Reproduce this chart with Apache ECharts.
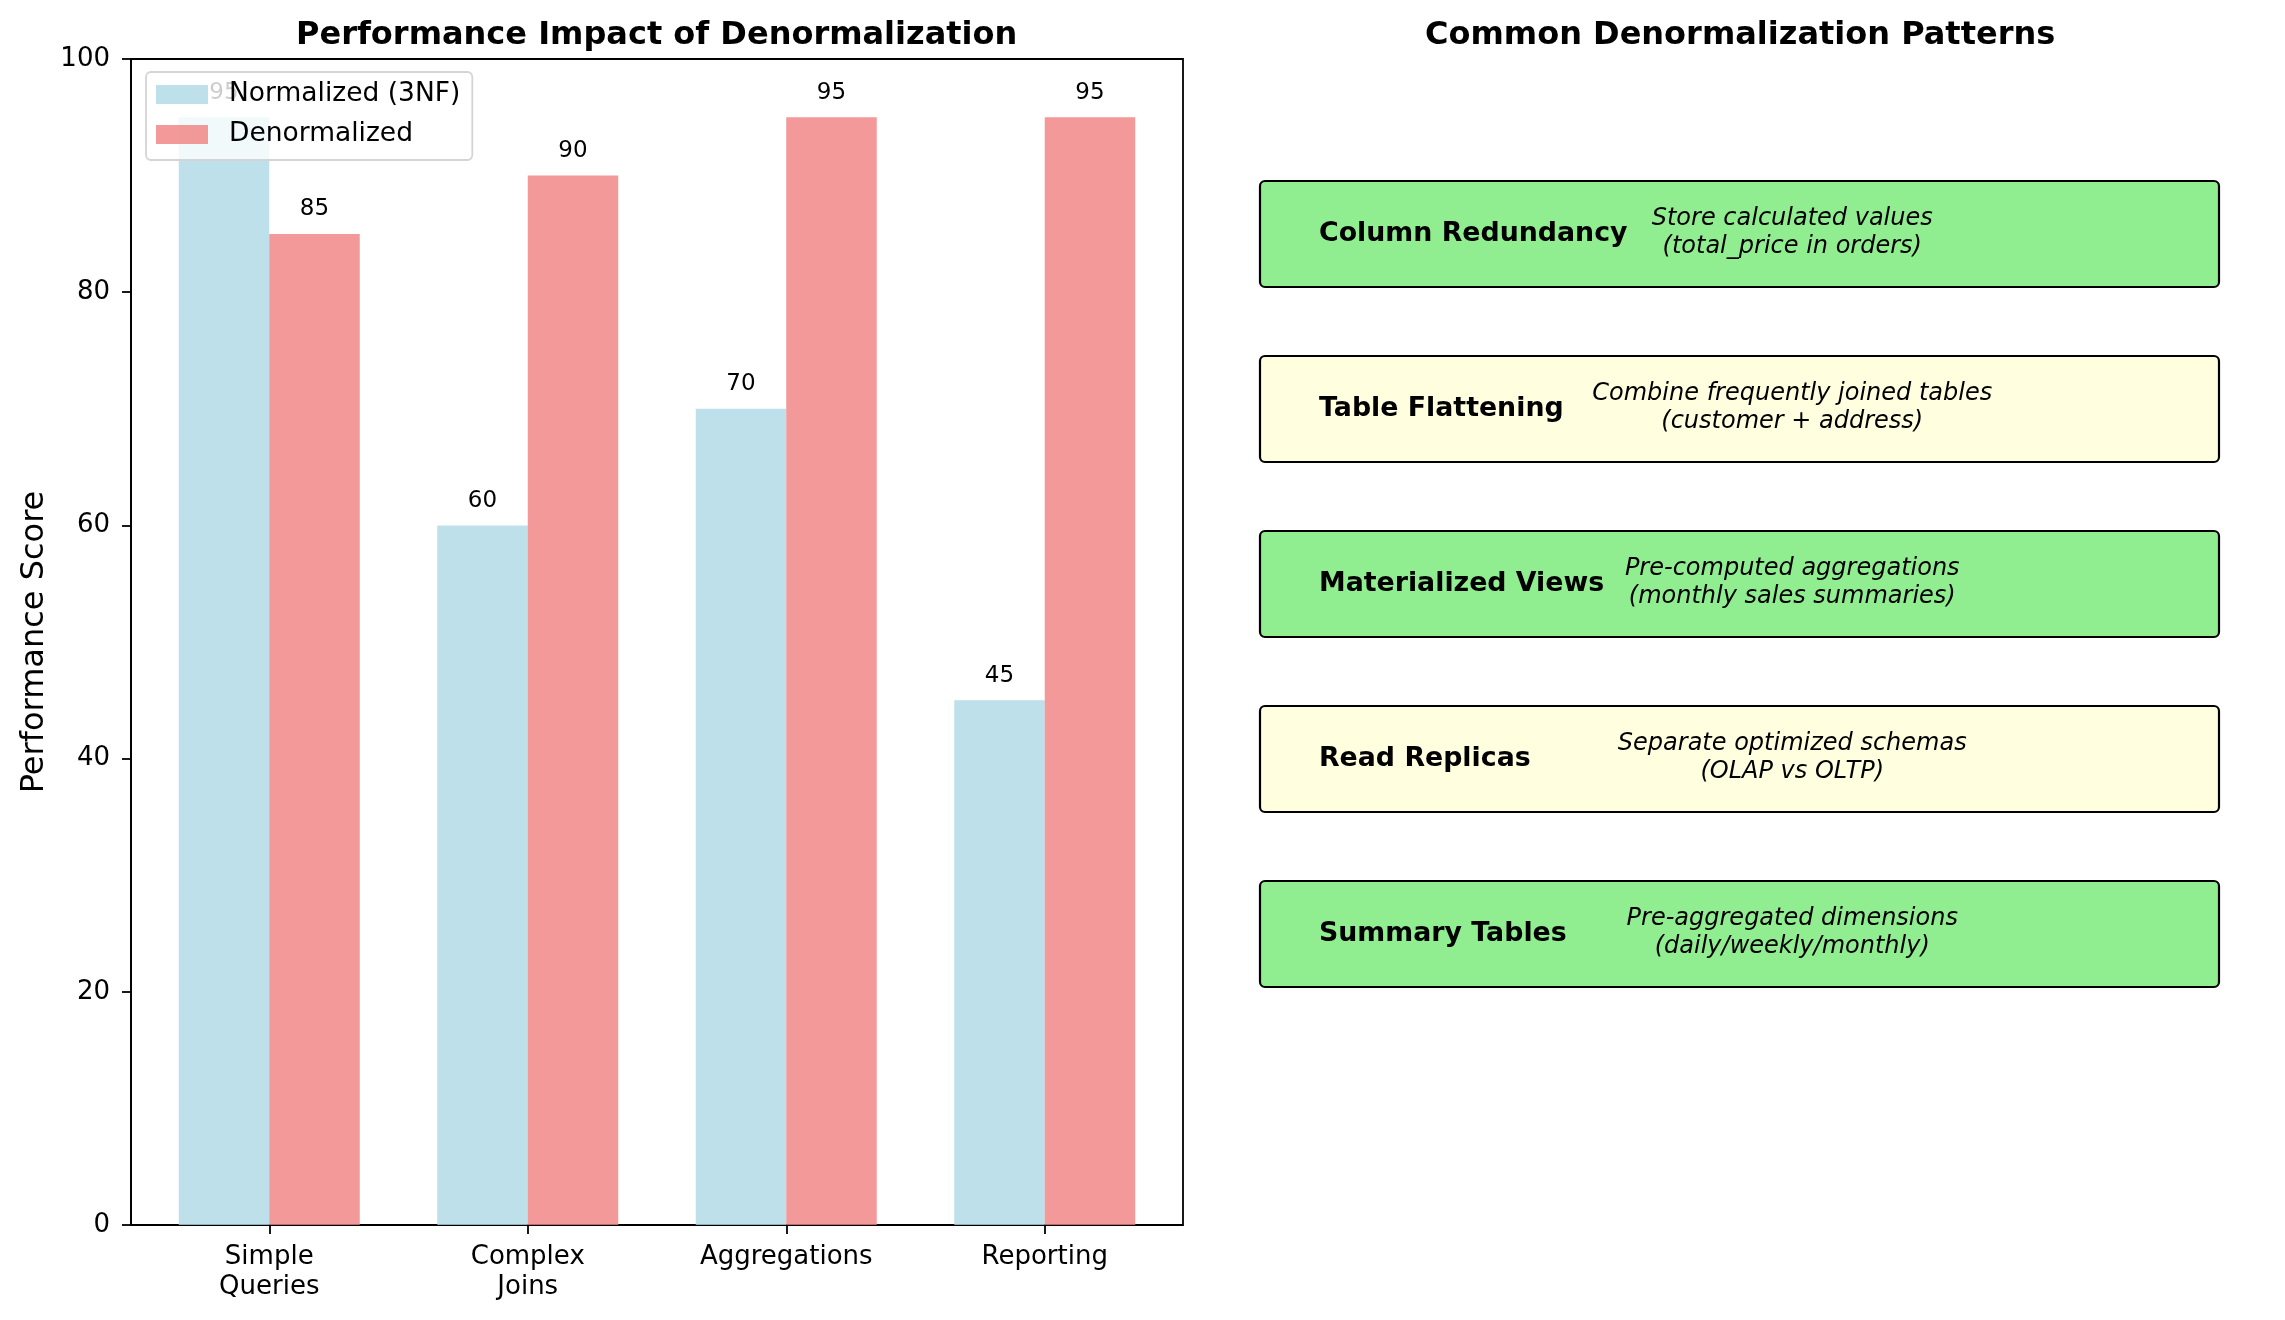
<!DOCTYPE html>
<html>
<head>
<meta charset="utf-8">
<script src="https://cdn.jsdelivr.net/npm/echarts@6/dist/echarts.min.js"></script>
<style>
html,body{margin:0;padding:0;background:#fff;}
#chart{width:2285px;height:1320px;}
</style>
</head>
<body>
<div id="chart"></div>
<script>
// ---- data ----
const categories = ['Simple\nQueries', 'Complex\nJoins', 'Aggregations', 'Reporting'];
const normalizedScores = [95, 60, 70, 45];
const denormalizedScores = [85, 90, 95, 95];
const yTicks = [0, 20, 40, 60, 80, 100];
const seriesNames = ['Normalized (3NF)', 'Denormalized'];
const patternNames = ['Column Redundancy', 'Table Flattening', 'Materialized Views', 'Read Replicas', 'Summary Tables'];
const patternDescs = [
  'Store calculated values\n(total_price in orders)',
  'Combine frequently joined tables\n(customer + address)',
  'Pre-computed aggregations\n(monthly sales summaries)',
  'Separate optimized schemas\n(OLAP vs OLTP)',
  'Pre-aggregated dimensions\n(daily/weekly/monthly)'
];

const FONT = 'DejaVu Sans';
const chart = echarts.init(document.getElementById('chart'));

const option = {
  animation: false,
  backgroundColor: '#ffffff',
  textStyle: { fontFamily: FONT },
  grid: [
    { left: 131, right: 1102, top: 59, bottom: 95, show: true, borderColor: '#000', borderWidth: 1.8, backgroundColor: 'transparent' },
    { left: 140, width: 1034, top: 59, bottom: 95 },
    { left: 1260, width: 959, top: 146.5, height: 875 }
  ],
  xAxis: [
    { gridIndex: 0, type: 'value', min: 0, max: 1, show: false },
    {
      gridIndex: 1, type: 'category', data: categories,
      axisLine: { show: false },
      axisTick: { show: true, alignWithLabel: true, length: 9, lineStyle: { color: '#000', width: 1.8 } },
      axisLabel: { color: '#000', fontSize: 26, fontFamily: FONT, lineHeight: 30, margin: 17, interval: 0 },
      splitLine: { show: false }
    },
    { gridIndex: 2, type: 'value', min: 0, max: 10, show: false }
  ],
  yAxis: [
    {
      gridIndex: 0, type: 'value', min: yTicks[0], max: yTicks[yTicks.length - 1], interval: yTicks[1] - yTicks[0],
      name: 'Performance Score', nameLocation: 'middle', nameGap: 80,
      nameTextStyle: { color: '#000', fontSize: 32, fontFamily: FONT },
      axisLine: { show: true, lineStyle: { color: '#000', width: 1.8 } },
      axisTick: { show: true, length: 9, lineStyle: { color: '#000', width: 1.8 } },
      axisLabel: { color: '#000', fontSize: 26, fontFamily: FONT, margin: 21 },
      splitLine: { show: false }
    },
    { gridIndex: 1, type: 'value', min: yTicks[0], max: yTicks[yTicks.length - 1], show: false },
    { gridIndex: 2, type: 'category', data: patternNames, inverse: true, show: false }
  ],
  legend: {
    data: seriesNames,
    orient: 'vertical',
    left: 146, top: 72,
    itemWidth: 52, itemHeight: 19, itemGap: 13,
    padding: [9, 12, 12, 10],
    icon: 'rect',
    backgroundColor: 'rgba(255,255,255,0.8)',
    borderColor: '#d4d4d4', borderWidth: 1.8, borderRadius: 5,
    textStyle: { color: '#000', fontSize: 26.5, fontFamily: FONT, lineHeight: 27, padding: [0, 0, 0, 16] }
  },
  graphic: [
    { type: 'text', left: 666 - 370, top: 20, style: { text: 'Performance Impact of Denormalization', fill: '#000', font: 'bold 32px "DejaVu Sans"', align: 'center', width: 740 } },
    { type: 'text', left: 1765 - 340, top: 20, style: { text: 'Common Denormalization Patterns', fill: '#000', font: 'bold 32px "DejaVu Sans"', align: 'center', width: 680 } }
  ],
  series: [
    {
      name: seriesNames[0], type: 'bar', xAxisIndex: 1, yAxisIndex: 1,
      data: normalizedScores, barWidth: 90.5, barGap: '0%',
      itemStyle: { color: 'rgba(173,216,230,0.8)' },
      label: { show: true, position: 'top', distance: 13, color: '#000', fontSize: 23, fontFamily: FONT }
    },
    {
      name: seriesNames[1], type: 'bar', xAxisIndex: 1, yAxisIndex: 1,
      data: denormalizedScores, barWidth: 90.5, barGap: '0%',
      itemStyle: { color: 'rgba(240,128,128,0.8)' },
      label: { show: true, position: 'top', distance: 13, color: '#000', fontSize: 23, fontFamily: FONT }
    },
    {
      type: 'custom', xAxisIndex: 2, yAxisIndex: 2,
      data: patternNames.map((n, i) => [0, i]),
      silent: true,
      renderItem: function (params, api) {
        const idx = api.value(1);
        const p0 = api.coord([0, idx]);
        const p1 = api.coord([10, idx]);
        const band = api.size([0, 1])[1];
        const h = band * 106 / 175;
        const nameX = api.coord([0.615, idx])[0];
        const descX = api.coord([5.55, idx])[0];
        const fill = idx % 2 === 0 ? '#90EE90' : '#FFFFE0';
        return {
          type: 'group',
          children: [
            { type: 'rect', shape: { x: p0[0], y: p0[1] - h / 2, width: p1[0] - p0[0], height: h, r: 5 },
              style: { fill: fill, stroke: '#000', lineWidth: 2.2 } },
            { type: 'text', x: nameX, y: p0[1],
              style: { text: patternNames[idx], fill: '#000', font: 'bold 26.8px "DejaVu Sans"', align: 'left', verticalAlign: 'middle' } },
            { type: 'text', x: descX, y: p0[1] - 1,
              style: { text: patternDescs[idx], fill: '#000', font: 'italic 24px "DejaVu Sans"', align: 'center', verticalAlign: 'middle', lineHeight: 28 } }
          ]
        };
      }
    }
  ]
};
chart.setOption(option);
</script>
</body>
</html>
